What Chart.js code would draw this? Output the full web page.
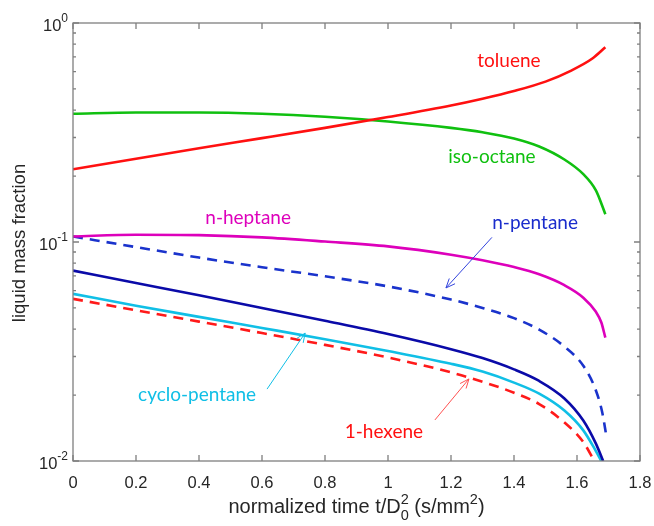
<!DOCTYPE html>
<html>
<head>
<meta charset="utf-8">
<script src="https://cdn.jsdelivr.net/npm/chart.js@4/dist/chart.umd.min.js"></script>
<style>
  html, body { margin: 0; padding: 0; background: #fff; }
  #wrap { width: 654px; height: 526px; }
</style>
</head>
<body>
<div id="wrap"><canvas id="massChart" width="654" height="526"></canvas></div>
<script>
// values (t in s/mm^2, liquid mass fraction)
const tTol = [0, 0.2, 0.4, 0.6, 0.8, 1.0, 1.2, 1.3, 1.4, 1.5, 1.58, 1.65, 1.69];
const toluene = [0.215, 0.24, 0.268, 0.298, 0.332, 0.372, 0.42, 0.451, 0.489, 0.54, 0.605, 0.69, 0.775];

const tIso = [0, 0.2, 0.4, 0.6, 0.8, 1.0, 1.2, 1.3, 1.4, 1.48, 1.56, 1.62, 1.66, 1.69];
const isoOctane = [0.385, 0.39, 0.39, 0.385, 0.373, 0.355, 0.332, 0.317, 0.297, 0.273, 0.238, 0.204, 0.172, 0.134];

const tHep = [0, 0.2, 0.4, 0.6, 0.8, 1.0, 1.2, 1.3, 1.4, 1.48, 1.56, 1.62, 1.66, 1.677, 1.69];
const nHeptane = [0.106, 0.108, 0.1075, 0.105, 0.1005, 0.0955, 0.0875, 0.0825, 0.0768, 0.0712, 0.0635, 0.0557, 0.048, 0.043, 0.0366];

const tPenDash = [0, 0.2, 0.4, 0.6, 0.8, 1.0, 1.2, 1.3, 1.4, 1.48, 1.56, 1.62, 1.66, 1.68, 1.694];
const nPentaneDash = [0.106, 0.0948, 0.0849, 0.0767, 0.0697, 0.0627, 0.0546, 0.050, 0.0449, 0.0398, 0.0333, 0.0272, 0.021, 0.0167, 0.0128];

const tPen = [0, 0.2, 0.4, 0.6, 0.8, 1.0, 1.2, 1.3, 1.4, 1.48, 1.56, 1.62, 1.66, 1.683];
const nPentane = [0.074, 0.065, 0.0571, 0.050, 0.0437, 0.038, 0.0324, 0.0295, 0.0262, 0.0232, 0.0193, 0.0153, 0.0120, 0.0100];

const tCyc = [0, 0.2, 0.4, 0.6, 0.8, 1.0, 1.2, 1.3, 1.4, 1.48, 1.56, 1.62, 1.66, 1.677];
const cycloPentane = [0.058, 0.0512, 0.0455, 0.0405, 0.036, 0.0318, 0.0278, 0.0256, 0.0228, 0.0203, 0.017, 0.0138, 0.0111, 0.0100];

const tHex = [0, 0.2, 0.4, 0.6, 0.8, 1.0, 1.2, 1.3, 1.4, 1.48, 1.56, 1.62, 1.655];
const hexene = [0.055, 0.0488, 0.0433, 0.0384, 0.0339, 0.0297, 0.0254, 0.0230, 0.0205, 0.0182, 0.0150, 0.0122, 0.0100];

const xTicks = [0, 0.2, 0.4, 0.6, 0.8, 1, 1.2, 1.4, 1.6, 1.8];
const yDecades = [0.01, 0.1, 1];

// text labels and arrows, in data units
const labels = [
  { text: 'toluene', t: 1.384, v: 0.67, color: '#ff1010' },
  { text: 'iso-octane', t: 1.33, v: 0.244, color: '#10c010' },
  { text: 'n-heptane', t: 0.556, v: 0.129, color: '#dd00bb' },
  { text: 'n-pentane', t: 1.467, v: 0.122, color: '#1a2ccc' },
  { text: 'cyclo-pentane', t: 0.394, v: 0.020, color: '#10bfe6' },
  { text: '1-hexene', t: 0.987, v: 0.01356, color: '#ff1010' }
];
const arrows = [
  { from: [1.33, 0.105], to: [1.184, 0.0617], color: '#3344dd' },
  { from: [0.616, 0.0213], to: [0.737, 0.0384], color: '#10bfe6' },
  { from: [1.149, 0.0154], to: [1.257, 0.0237], color: '#ff5050' }
];

const FONT = '"Liberation Sans", Arial, sans-serif';

function pts(ts, vs) {
  return ts.map((t, i) => ({ x: t, y: vs[i] }));
}

function series(data, color, dashed) {
  return {
    data: data,
    borderColor: color,
    borderWidth: 2.6,
    borderDash: dashed ? [10, 7] : [],
    pointRadius: 0,
    fill: false,
    cubicInterpolationMode: 'monotone'
  };
}

const axesPlugin = {
  id: 'axesPlugin',
  afterDraw(chart) {
    const ctx = chart.ctx;
    const xs = chart.scales.x, ys = chart.scales.y;
    const a = chart.chartArea;
    ctx.save();

    // box
    ctx.strokeStyle = '#7f7f7f';
    ctx.lineWidth = 1.3;
    ctx.strokeRect(a.left, a.top, a.right - a.left, a.bottom - a.top);

    // x ticks (inside, bottom and top)
    ctx.beginPath();
    xTicks.forEach(t => {
      const px = xs.getPixelForValue(t);
      ctx.moveTo(px, a.bottom); ctx.lineTo(px, a.bottom - 6);
      ctx.moveTo(px, a.top); ctx.lineTo(px, a.top + 6);
    });
    // y ticks: decades long, minors short
    for (let d = 0; d < yDecades.length; d++) {
      const base = yDecades[d];
      const py = ys.getPixelForValue(base);
      ctx.moveTo(a.left, py); ctx.lineTo(a.left + 6, py);
      ctx.moveTo(a.right, py); ctx.lineTo(a.right - 6, py);
      if (d < yDecades.length - 1) {
        for (let k = 2; k <= 9; k++) {
          const pm = ys.getPixelForValue(base * k);
          ctx.moveTo(a.left, pm); ctx.lineTo(a.left + 3, pm);
          ctx.moveTo(a.right, pm); ctx.lineTo(a.right - 3, pm);
        }
      }
    }
    ctx.stroke();

    // tick labels
    ctx.fillStyle = '#262626';
    ctx.textBaseline = 'alphabetic';
    ctx.textAlign = 'center';
    ctx.font = '16.5px ' + FONT;
    xTicks.forEach(t => {
      ctx.fillText(String(t), xs.getPixelForValue(t), a.bottom + 27);
    });
    ctx.textAlign = 'left';
    yDecades.forEach(v => {
      const py = ys.getPixelForValue(v);
      const exp = String(Math.round(Math.log10(v)));
      ctx.font = '12px ' + FONT;
      const ew = ctx.measureText(exp).width;
      ctx.font = '16.5px ' + FONT;
      const bw = ctx.measureText('10').width;
      const x0 = a.left - 5 - ew - bw;
      ctx.fillText('10', x0, py + 8);
      ctx.font = '12px ' + FONT;
      ctx.fillText(exp, x0 + bw, py - 1);
    });

    // x axis title with D_0^2 and mm^2
    const size = 20, small = 14.5;
    const parts = [
      { s: 'normalized time t/D', f: size, dy: 0 },
      { s: '2', f: small, dy: -size * 0.45 },
      { s: ' (s/mm', f: size, dy: 0 },
      { s: '2', f: small, dy: -size * 0.45 },
      { s: ')', f: size, dy: 0 }
    ];
    let total = 0;
    parts.forEach(p => {
      ctx.font = p.f + 'px ' + FONT;
      p.w = ctx.measureText(p.s).width;
      total += p.w;
    });
    const ty = a.bottom + 52;
    let cx = (a.left + a.right) / 2 - total / 2;
    parts.forEach((p, i) => {
      ctx.font = p.f + 'px ' + FONT;
      ctx.fillText(p.s, cx, ty + p.dy);
      if (i === 1) ctx.fillText('0', cx, ty + size * 0.35);
      cx += p.w;
    });

    // y axis title
    ctx.save();
    ctx.translate(25, 243);
    ctx.rotate(-Math.PI / 2);
    ctx.textAlign = 'center';
    ctx.font = '18.5px ' + FONT;
    ctx.fillText('liquid mass fraction', 0, 0);
    ctx.restore();

    // arrows
    arrows.forEach(ar => {
      const x1 = xs.getPixelForValue(ar.from[0]), y1 = ys.getPixelForValue(ar.from[1]);
      const x2 = xs.getPixelForValue(ar.to[0]), y2 = ys.getPixelForValue(ar.to[1]);
      const ang = Math.atan2(y2 - y1, x2 - x1);
      ctx.strokeStyle = ar.color;
      ctx.lineWidth = 1;
      ctx.beginPath();
      ctx.moveTo(x1, y1); ctx.lineTo(x2, y2);
      ctx.moveTo(x2, y2);
      ctx.lineTo(x2 - 10 * Math.cos(ang - 0.4), y2 - 10 * Math.sin(ang - 0.4));
      ctx.moveTo(x2, y2);
      ctx.lineTo(x2 - 10 * Math.cos(ang + 0.4), y2 - 10 * Math.sin(ang + 0.4));
      ctx.stroke();
    });

    // curve labels
    ctx.textAlign = 'center';
    ctx.textBaseline = 'middle';
    ctx.font = '19px Lato, "Open Sans", sans-serif';
    labels.forEach(l => {
      ctx.fillStyle = l.color;
      ctx.fillText(l.text, xs.getPixelForValue(l.t), ys.getPixelForValue(l.v));
    });
    ctx.restore();
  }
};

new Chart(document.getElementById('massChart'), {
  type: 'line',
  data: {
    datasets: [
      series(pts(tTol, toluene), '#ff1010', false),
      series(pts(tIso, isoOctane), '#10c010', false),
      series(pts(tHep, nHeptane), '#dd00bb', false),
      series(pts(tPenDash, nPentaneDash), '#1a33cc', true),
      series(pts(tPen, nPentane), '#0a0aa8', false),
      series(pts(tCyc, cycloPentane), '#10bfe6', false),
      series(pts(tHex, hexene), '#ff1a1a', true)
    ]
  },
  options: {
    responsive: false,
    animation: false,
    layout: { padding: { left: 73, right: 14, top: 23, bottom: 65 } },
    plugins: {
      legend: { display: false },
      tooltip: { enabled: false }
    },
    scales: {
      x: { type: 'linear', min: 0, max: 1.8, display: false },
      y: { type: 'logarithmic', min: 0.01, max: 1, display: false }
    }
  },
  plugins: [axesPlugin]
});
</script>
</body>
</html>
